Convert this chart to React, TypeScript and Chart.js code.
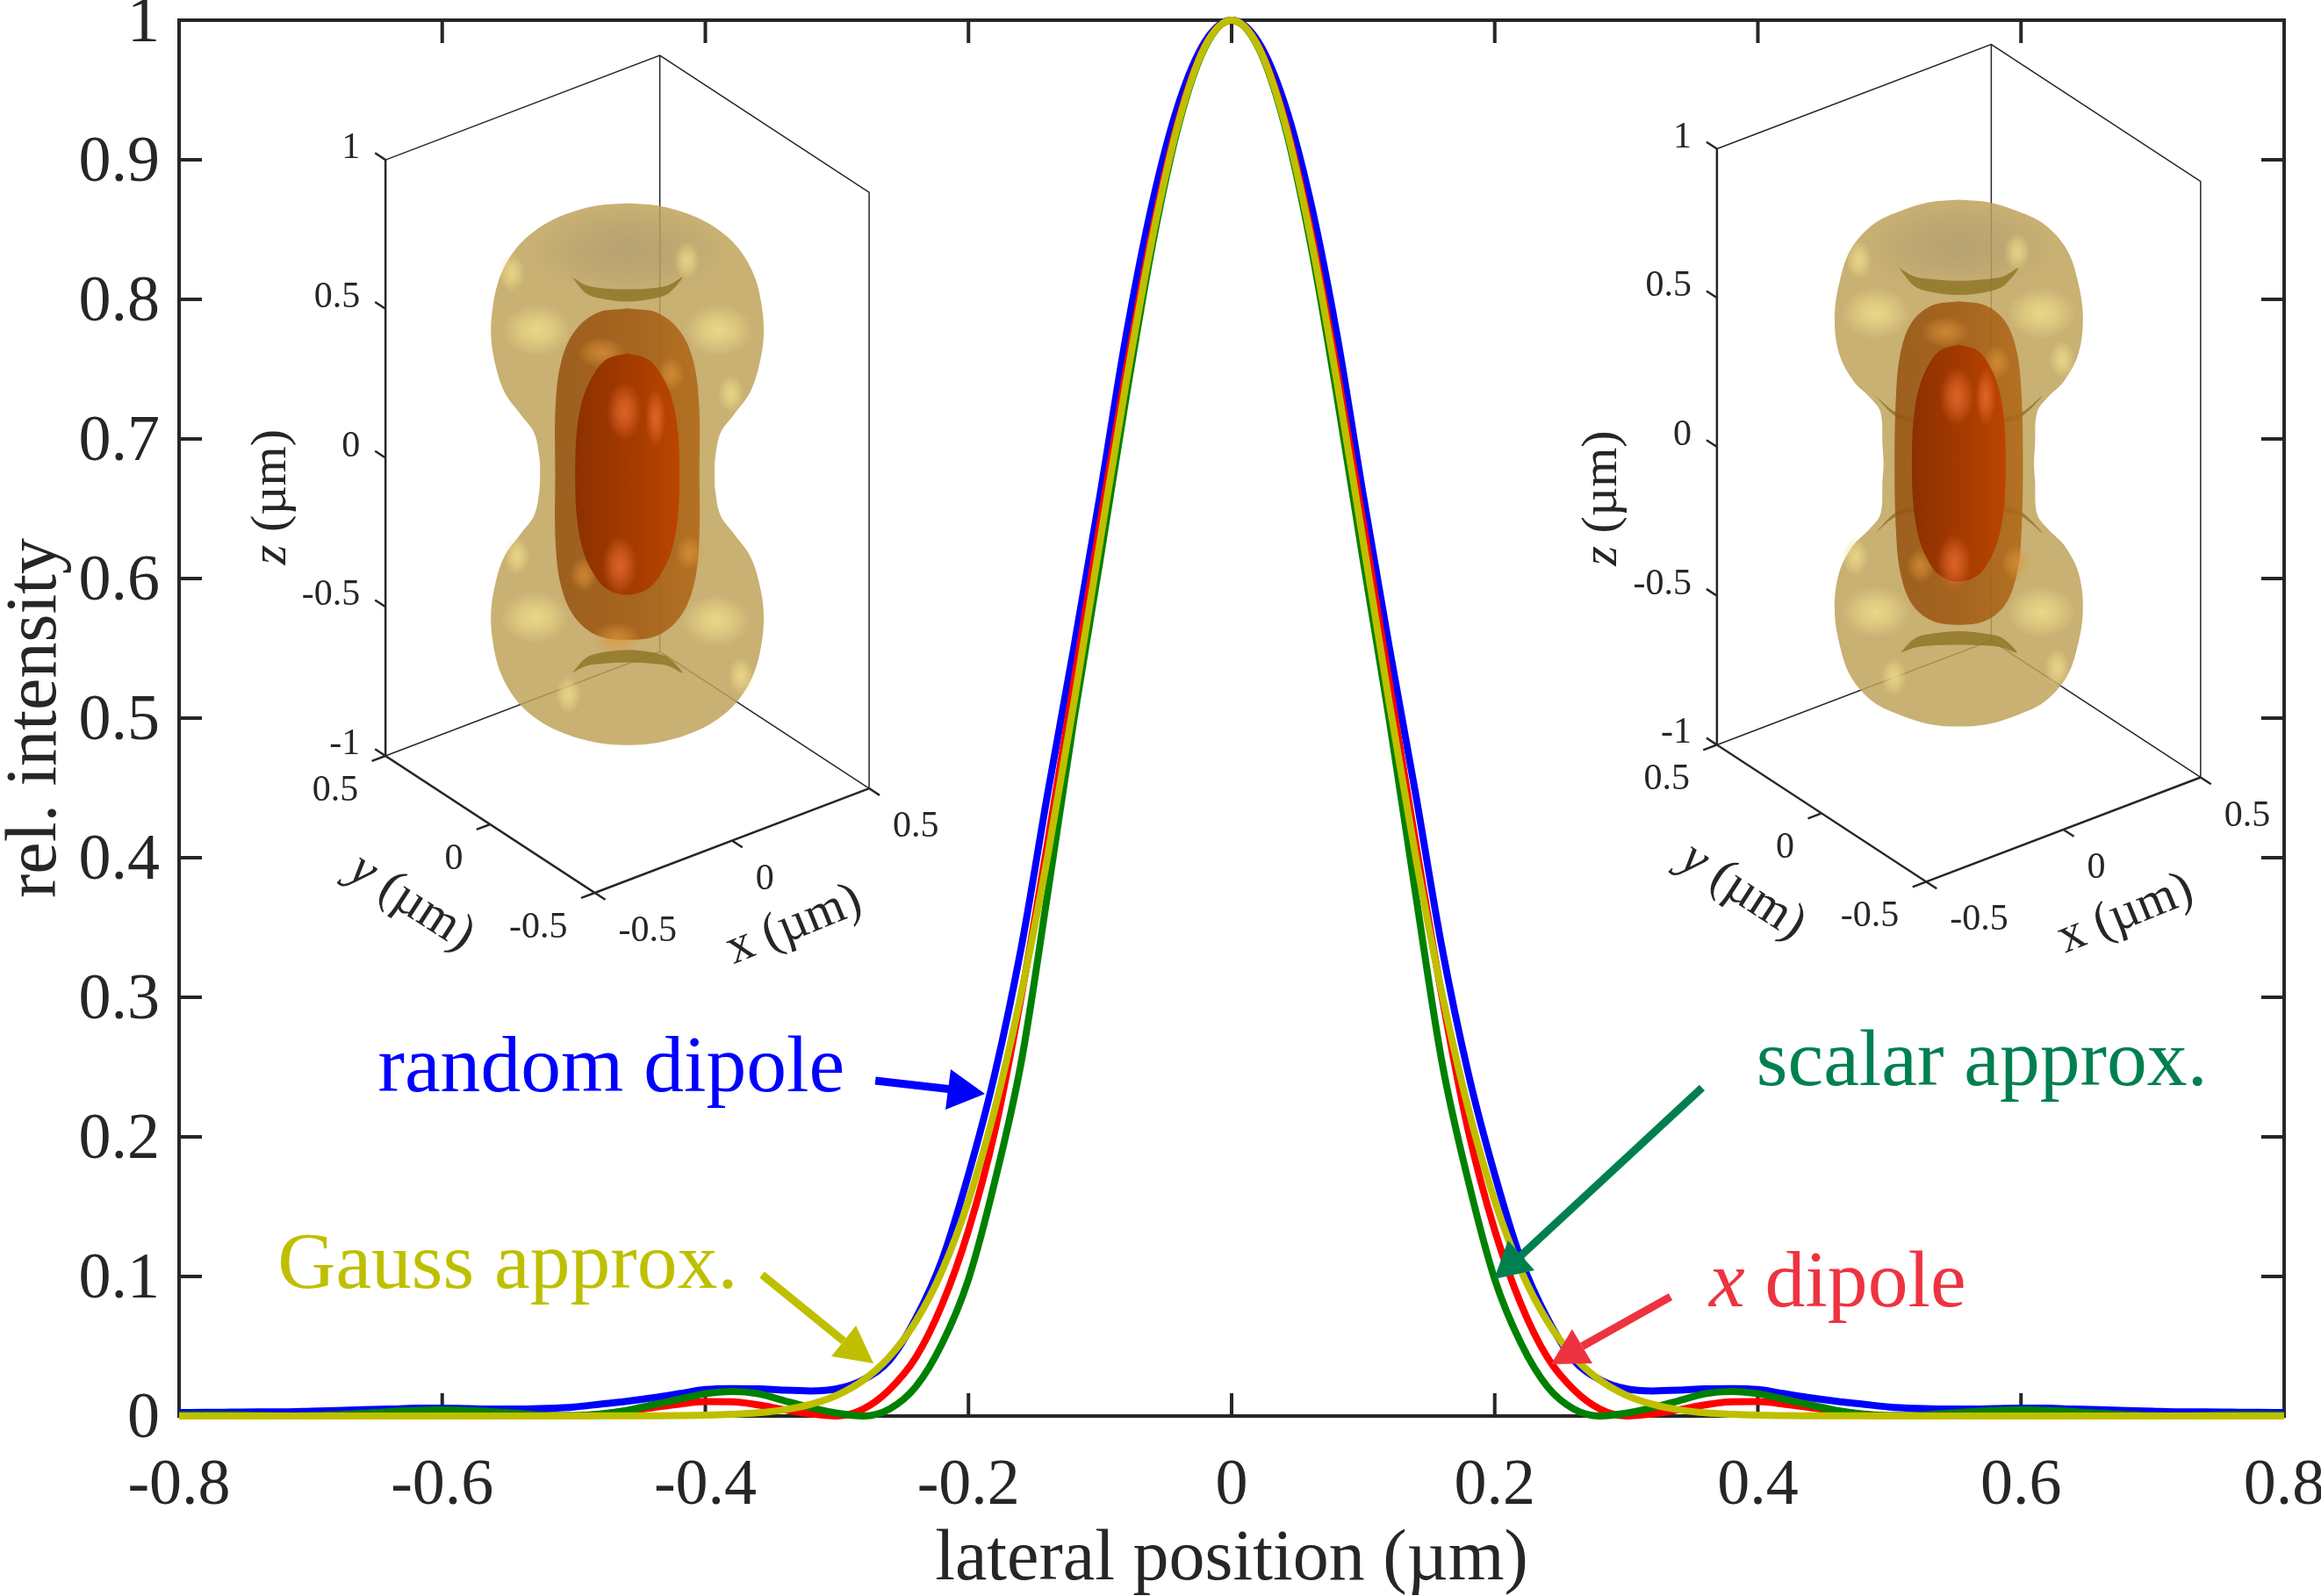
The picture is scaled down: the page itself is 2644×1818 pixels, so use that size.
import React, { useEffect, useRef } from 'react';
import { Chart, registerables } from 'chart.js';

Chart.register(...registerables);

const SERIF = '"Liberation Serif"';
const INK = '#262626';

// lateral position in um
const xValues = [
  -0.8, -0.78, -0.76, -0.74, -0.72, -0.7, -0.68, -0.66, -0.64, -0.62, -0.6, -0.58, -0.56, -0.54, -0.52, -0.5, -0.48,
  -0.46, -0.44, -0.42, -0.4, -0.38, -0.36, -0.34, -0.32, -0.3, -0.28, -0.26, -0.24, -0.22, -0.2, -0.18, -0.16, -0.14,
  -0.12, -0.1, -0.08, -0.06, -0.04, -0.02, 0, 0.02, 0.04, 0.06, 0.08, 0.1, 0.12, 0.14, 0.16, 0.18, 0.2, 0.22, 0.24,
  0.26, 0.28, 0.3, 0.32, 0.34, 0.36, 0.38, 0.4, 0.42, 0.44, 0.46, 0.48, 0.5, 0.52, 0.54, 0.56, 0.58, 0.6, 0.62, 0.64,
  0.66, 0.68, 0.7, 0.72, 0.74, 0.76, 0.78, 0.8,
];

const randomDipole = [
  0.0025, 0.0026, 0.0028, 0.003, 0.003, 0.0035, 0.004, 0.0045, 0.005, 0.0056, 0.0057, 0.0053, 0.005, 0.005, 0.0055,
  0.0065, 0.0085, 0.0105, 0.013, 0.016, 0.019, 0.0197, 0.0195, 0.0185, 0.018, 0.0195, 0.026, 0.04, 0.07, 0.112, 0.173,
  0.245, 0.335, 0.445, 0.55, 0.66, 0.775, 0.87, 0.941, 0.985, 1, 0.985, 0.941, 0.87, 0.775, 0.66, 0.55, 0.445, 0.335,
  0.245, 0.173, 0.112, 0.07, 0.04, 0.026, 0.0195, 0.018, 0.0185, 0.0195, 0.0197, 0.019, 0.016, 0.013, 0.0105, 0.0085,
  0.0065, 0.0055, 0.005, 0.005, 0.0053, 0.0057, 0.0056, 0.005, 0.0045, 0.004, 0.0035, 0.003, 0.003, 0.0028, 0.0026,
  0.0025,
];

const xDipole = [
  0.0003, 0.0003, 0.0002, 0.0001, 0, 0, 0.0002, 0.0006, 0.001, 0.0016, 0.0018, 0.0015, 0.001, 0.0006, 0.0002, 0.0002,
  0.0012, 0.0035, 0.006, 0.0085, 0.0103, 0.0102, 0.008, 0.0045, 0.0015, 0, 0.005, 0.019, 0.042, 0.08, 0.133, 0.204,
  0.3, 0.41, 0.525, 0.64, 0.75, 0.85, 0.93, 0.982, 1, 0.982, 0.93, 0.85, 0.75, 0.64, 0.525, 0.41, 0.3, 0.204, 0.133,
  0.08, 0.042, 0.019, 0.005, 0, 0.0015, 0.0045, 0.008, 0.0102, 0.0103, 0.0085, 0.006, 0.0035, 0.0012, 0.0002, 0.0002,
  0.0006, 0.001, 0.0015, 0.0018, 0.0016, 0.001, 0.0006, 0.0002, 0, 0, 0.0001, 0.0002, 0.0003, 0.0003,
];

const scalarApprox = [
  0.0008, 0.001, 0.001, 0.0005, 0.0002, 0.0003, 0.001, 0.002, 0.0032, 0.004, 0.0044, 0.004, 0.003, 0.0018, 0.0005,
  0.0003, 0.0015, 0.004, 0.008, 0.012, 0.016, 0.0176, 0.016, 0.011, 0.006, 0.002, 0, 0.005, 0.021, 0.052, 0.098, 0.168,
  0.253, 0.373, 0.498, 0.613, 0.731, 0.84, 0.926, 0.981, 1, 0.981, 0.926, 0.84, 0.731, 0.613, 0.498, 0.373, 0.253,
  0.168, 0.098, 0.052, 0.021, 0.005, 0, 0.002, 0.006, 0.011, 0.016, 0.0176, 0.016, 0.012, 0.008, 0.004, 0.0015, 0.0003,
  0.0005, 0.0018, 0.003, 0.004, 0.0044, 0.004, 0.0032, 0.002, 0.001, 0.0003, 0.0002, 0.0005, 0.001, 0.001, 0.0008,
];

const gaussApprox = [
  0, 0, 0, 0, 0, 0, 0, 0, 0, 0, 0, 0, 0, 0, 0, 0, 0.0001, 0.0001, 0.0001, 0.0003, 0.0006, 0.0012, 0.0023, 0.0045,
  0.0084, 0.0149, 0.0256, 0.0425, 0.0678, 0.1042, 0.1543, 0.22, 0.3023, 0.4002, 0.5102, 0.6267, 0.7415, 0.8452, 0.928,
  0.9815, 1, 0.9815, 0.928, 0.8452, 0.7415, 0.6267, 0.5102, 0.4002, 0.3023, 0.22, 0.1543, 0.1042, 0.0678, 0.0425,
  0.0256, 0.0149, 0.0084, 0.0045, 0.0023, 0.0012, 0.0006, 0.0003, 0.0001, 0.0001, 0.0001, 0, 0, 0, 0, 0, 0, 0, 0, 0, 0,
  0, 0, 0, 0, 0, 0,
];

const xTickValues = [-0.8, -0.6, -0.4, -0.2, 0, 0.2, 0.4, 0.6, 0.8];
const xTickLabels = ['-0.8', '-0.6', '-0.4', '-0.2', '0', '0.2', '0.4', '0.6', '0.8'];
const yTickValues = [0, 0.1, 0.2, 0.3, 0.4, 0.5, 0.6, 0.7, 0.8, 0.9, 1];
const yTickLabels = ['0', '0.1', '0.2', '0.3', '0.4', '0.5', '0.6', '0.7', '0.8', '0.9', '1'];

// inset isosurface outlines: [screen half width, z], top half only, mirrored when the shape is built
const leftOuter = [
  [0, 0.909], [0.088, 0.901], [0.179, 0.872], [0.257, 0.826], [0.322, 0.758], [0.368, 0.665], [0.39, 0.562],
  [0.395, 0.459], [0.38, 0.355], [0.355, 0.273], [0.309, 0.2], [0.27, 0.138], [0.255, 0.056], [0.253, 0],
];
const leftMiddle = [[0, 0.556], [0.088, 0.541], [0.153, 0.479], [0.192, 0.376], [0.208, 0.231], [0.209, 0]];
const leftInner = [[0, 0.405], [0.06, 0.385], [0.1, 0.33], [0.13, 0.25], [0.147, 0.14], [0.151, 0]];
const rightOuter = [
  [0, 0.884], [0.084, 0.876], [0.162, 0.849], [0.247, 0.802], [0.312, 0.719], [0.344, 0.616], [0.36, 0.492],
  [0.347, 0.368], [0.305, 0.275], [0.26, 0.223], [0.227, 0.171], [0.221, 0.058], [0.218, 0],
];
const rightMiddle = [[0, 0.543], [0.078, 0.529], [0.136, 0.473], [0.169, 0.37], [0.182, 0.225], [0.186, 0]];
const rightInner = [[0, 0.398], [0.054, 0.378], [0.09, 0.325], [0.117, 0.245], [0.132, 0.135], [0.136, 0]];

// soft shadow of the bowl on top of the torus
const leftBowl = [[0, 0.75, 0]];
const rightBowl = [[0, 0.73, 0]];

// dark crescents where the surface folds: [r, z] going round each one
const leftCrescents = [
  [[-0.16, 0.661], [-0.12, 0.607], [-0.08, 0.59], [0, 0.579], [0.08, 0.59], [0.12, 0.607], [0.16, 0.661], [0.12, 0.634], [0.08, 0.625], [0, 0.62], [-0.08, 0.625], [-0.12, 0.634], [-0.16, 0.661]],
  [[-0.16, -0.667], [-0.12, -0.617], [-0.08, -0.6], [0, -0.59], [0.08, -0.6], [0.12, -0.617], [0.16, -0.667], [0.12, -0.644], [0.08, -0.637], [0, -0.632], [-0.08, -0.637], [-0.12, -0.644], [-0.16, -0.667]],
];
const rightCrescents = [
  [[-0.173, 0.655], [-0.13, 0.595], [-0.087, 0.576], [0, 0.564], [0.087, 0.576], [0.13, 0.595], [0.173, 0.655], [0.13, 0.627], [0.087, 0.618], [0, 0.612], [-0.087, 0.618], [-0.13, 0.627], [-0.173, 0.655]],
  [[-0.169, -0.636], [-0.127, -0.588], [-0.085, -0.574], [0, -0.564], [0.085, -0.574], [0.127, -0.588], [0.169, -0.636], [0.127, -0.619], [0.085, -0.613], [0, -0.61], [-0.085, -0.613], [-0.127, -0.619], [-0.169, -0.636]],
  [[-0.243, 0.227], [-0.182, 0.156], [-0.122, 0.134], [0, 0.12], [0.122, 0.134], [0.182, 0.156], [0.243, 0.227], [0.182, 0.17], [0.122, 0.152], [0, 0.14], [-0.122, 0.152], [-0.182, 0.17], [-0.243, 0.227]],
  [[-0.243, -0.236], [-0.182, -0.165], [-0.122, -0.142], [0, -0.128], [0.122, -0.142], [0.182, -0.165], [0.243, -0.236], [0.182, -0.179], [0.122, -0.161], [0, -0.149], [-0.122, -0.161], [-0.182, -0.179], [-0.243, -0.236]],
];

// specular spots: [r, z, size], size 0 small, 1 medium, 2 large
const leftOuterSpots = [
  [-0.335, 0.676, 0], [-0.262, 0.483, 2], [0.264, 0.483, 2], [0.173, 0.717, 0], [0.3, 0.27, 0],
  [-0.269, -0.481, 2], [0.257, -0.492, 2], [-0.32, -0.275, 0], [0.33, -0.678, 0], [-0.171, -0.74, 0],
];
const leftMiddleSpots = [[0.127, 0.335, 0], [-0.074, 0.407, 1], [0.179, -0.264, 0], [-0.126, -0.337, 0], [-0.03, -0.55, 1]];
const leftInnerSpots = [[-0.009, 0.211, 1], [0.082, 0.19, 0], [-0.022, -0.306, 1]];
const rightOuterSpots = [
  [-0.29, 0.682, 0], [-0.24, 0.502, 2], [0.24, 0.502, 2], [0.169, 0.709, 0], [-0.24, -0.5, 2], [0.24, -0.5, 2],
  [0.285, -0.686, 0], [-0.188, -0.717, 0], [0.3, 0.347, 0], [-0.3, -0.314, 0],
];
const rightMiddleSpots = [[0.11, 0.337, 0], [-0.039, 0.44, 1], [0.165, -0.335, 0], [-0.11, -0.345, 0]];
const rightInnerSpots = [[-0.006, 0.223, 1], [0.078, 0.223, 0], [-0.013, -0.335, 1]];

const insetZTicks = [1, 0.5, 0, -0.5, -1];
const insetZLabels = ['1', '0.5', '0', '-0.5', '-1'];
const insetYTicks = [0.5, 0, -0.5];
const insetYLabels = ['0.5', '0', '-0.5'];
const insetXTicks = [-0.5, 0, 0.5];
const insetXLabels = ['-0.5', '0', '0.5'];

// arrows in axis units: shaft start, shaft end, then the head's tip and two rear corners
const arrowBlue = [[-0.2708, 0.2403], [-0.2121, 0.234], [-0.1875, 0.2308], [-0.2135, 0.2484], [-0.2175, 0.2195]];
const arrowGreen = [[0.3576, 0.2352], [0.2201, 0.1151], [0.1995, 0.0981], [0.2101, 0.1258], [0.2302, 0.1044]];
const arrowRed = [[0.3336, 0.0855], [0.2665, 0.05], [0.2428, 0.0371], [0.2588, 0.0623], [0.2742, 0.0377]];
const arrowGauss = [[-0.3569, 0.1013], [-0.2949, 0.0538], [-0.2722, 0.0377], [-0.2855, 0.0648], [-0.3042, 0.0428]];

const BLUE = '#0000ff';
const RED = '#ff0000';
const GREEN = '#008000';
const GAUSS = '#bfbf00';
const NOTE_GREEN = '#008050';
const NOTE_RED = '#ee3340';

// projection of one micrometre of each inset axis, in main axis units
const UX = [0.2085, 0.0748];
const UY = [-0.1591, 0.0981];
const UZ = [0, 0.2135];
const RW = 0.2622;

const insets = [
  {
    cx: -0.4593, cy: 0.6748, outer: leftOuter, middle: leftMiddle, inner: leftInner, bowl: leftBowl, crescents: leftCrescents,
    outerSpots: leftOuterSpots, middleSpots: leftMiddleSpots, innerSpots: leftInnerSpots, zOff: [-405, 26],
  },
  {
    cx: 0.5527, cy: 0.6827, outer: rightOuter, middle: rightMiddle, inner: rightInner, bowl: rightBowl, crescents: rightCrescents,
    outerSpots: rightOuterSpots, middleSpots: rightMiddleSpots, innerSpots: rightInnerSpots, zOff: [-406, 40],
  },
];

function project(c: any, x: number, y: number, z: number) {
  return {
    x: c.cx + x * UX[0] + y * UY[0] + z * UZ[0],
    y: c.cy + x * UX[1] + y * UY[1] + z * UZ[1],
  };
}

function place(c: any, pts: number[][]) {
  return pts.map((p) => ({ x: c.cx + p[0] * RW, y: c.cy + p[1] * UZ[1] }));
}

function shapePoints(c: any, prof: number[][]) {
  const right = [...prof, ...prof.slice(0, -1).reverse().map((p) => [p[0], -p[1]])];
  const left = right.slice(0, -1).reverse().map((p) => [-p[0], p[1]]);
  return place(c, [...right, ...left]);
}

function hGradient(c: any, halfWidth: number, stops: string[]) {
  return (ctx: any) => {
    const chart = ctx.chart;
    if (!chart.chartArea) return stops[0];
    const xs = chart.scales.x;
    const g = chart.ctx.createLinearGradient(
      xs.getPixelForValue(c.cx - halfWidth * RW), 0, xs.getPixelForValue(c.cx + halfWidth * RW), 0,
    );
    stops.forEach((s, i) => g.addColorStop(i / (stops.length - 1), s));
    return g;
  };
}

function makeGlow(rx: number, ry: number, rgb: string, alpha: number) {
  const cv = document.createElement('canvas');
  cv.width = rx * 2;
  cv.height = ry * 2;
  const c = cv.getContext('2d')!;
  c.translate(rx, ry);
  c.scale(1, ry / rx);
  const g = c.createRadialGradient(0, 0, 0, 0, 0, rx);
  g.addColorStop(0, `rgba(${rgb},${alpha})`);
  g.addColorStop(0.45, `rgba(${rgb},${alpha * 0.65})`);
  g.addColorStop(1, `rgba(${rgb},0)`);
  c.fillStyle = g;
  c.beginPath();
  c.arc(0, 0, rx, 0, Math.PI * 2);
  c.fill();
  return cv;
}

const GAP = { x: NaN, y: NaN };

function boxBack(c: any) {
  return [
    project(c, -0.5, 0.5, 1), project(c, 0.5, 0.5, 1), project(c, 0.5, -0.5, 1), project(c, 0.5, -0.5, -1), GAP,
    project(c, 0.5, 0.5, 1), project(c, 0.5, 0.5, -1), GAP,
    project(c, -0.5, 0.5, -1), project(c, 0.5, 0.5, -1), project(c, 0.5, -0.5, -1),
  ];
}

function boxFront(c: any) {
  const pts: any[] = [project(c, -0.5, 0.5, 1), project(c, -0.5, 0.5, -1), project(c, -0.5, -0.5, -1), project(c, 0.5, -0.5, -1), GAP];
  insetZTicks.forEach((z) => pts.push(project(c, -0.5, 0.5, z), project(c, -0.5, 0.55, z), GAP));
  insetYTicks.forEach((y) => pts.push(project(c, -0.5, y, -1), project(c, -0.55, y, -1), GAP));
  insetXTicks.forEach((x) => pts.push(project(c, x, -0.5, -1), project(c, x, -0.55, -1), GAP));
  return pts;
}

function shape(data: any[], backgroundColor: any) {
  return { data, backgroundColor, borderWidth: 0, fill: 'shape', pointRadius: 0, tension: 0.35, capBezierPoints: false };
}

function spotSet(c: any, spots: number[][], glows: HTMLCanvasElement[]) {
  return {
    data: spots.map((s) => ({ x: c.cx + s[0] * RW, y: c.cy + s[1] * UZ[1], s: s[2] })),
    showLine: false,
    pointRadius: 6,
    pointStyle: (ctx: any) => (ctx.raw ? glows[ctx.raw.s] : 'circle'),
  };
}

function insetSets(c: any, glows: any) {
  const midHalf = c.middle[c.middle.length - 1][0];
  const inHalf = c.inner[c.inner.length - 1][0];
  return [
    { data: boxBack(c), borderColor: INK, borderWidth: 1.5, pointRadius: 0, spanGaps: false },
    shape(shapePoints(c, c.outer), 'rgba(192,162,91,0.85)'),
    spotSet(c, c.bowl, glows.bowl),
    spotSet(c, c.outerSpots, glows.outer),
    ...c.crescents.map((cr: number[][]) => shape(place(c, cr), 'rgba(140,115,35,0.8)')),
    shape(shapePoints(c, c.middle), hGradient(c, midHalf, ['rgba(150,84,18,0.88)', 'rgba(160,90,20,0.88)', 'rgba(176,104,24,0.88)'])),
    spotSet(c, c.middleSpots, glows.middle),
    shape(shapePoints(c, c.inner), hGradient(c, inHalf, ['#8c3000', '#a33a00', '#bb4500'])),
    spotSet(c, c.innerSpots, glows.inner),
    { data: boxFront(c), borderColor: INK, borderWidth: 2.5, pointRadius: 0, spanGaps: false },
  ];
}

function arrowSets(a: number[][], color: string) {
  const toPt = (p: number[]) => ({ x: p[0], y: p[1] });
  return [
    { data: [toPt(a[0]), toPt(a[1])], borderColor: color, borderWidth: 9, pointRadius: 0 },
    {
      data: [toPt(a[2]), toPt(a[3]), toPt(a[4]), toPt(a[2])],
      backgroundColor: color, borderWidth: 0, fill: 'shape', pointRadius: 0,
    },
  ];
}

function curve(label: string, values: number[], color: string) {
  return {
    label,
    data: values.map((y, i) => ({ x: xValues[i], y })),
    borderColor: color,
    borderWidth: 8,
    pointRadius: 0,
    cubicInterpolationMode: 'monotone',
    clip: false,
  };
}

const frameTicks = {
  id: 'frameTicks',
  beforeDatasetsDraw(chart: any) {
    const { ctx, chartArea: a, scales } = chart;
    ctx.save();
    ctx.strokeStyle = INK;
    ctx.lineWidth = 4;
    ctx.strokeRect(a.left, a.top, a.right - a.left, a.bottom - a.top);
    ctx.beginPath();
    const len = 26;
    xTickValues.forEach((v) => {
      const px = scales.x.getPixelForValue(v);
      ctx.moveTo(px, a.bottom);
      ctx.lineTo(px, a.bottom - len);
      ctx.moveTo(px, a.top);
      ctx.lineTo(px, a.top + len);
    });
    yTickValues.forEach((v) => {
      const py = scales.y.getPixelForValue(v);
      ctx.moveTo(a.left, py);
      ctx.lineTo(a.left + len, py);
      ctx.moveTo(a.right, py);
      ctx.lineTo(a.right - len, py);
    });
    ctx.stroke();
    ctx.restore();
  },
};

const notes = [
  { x: -0.6489, y: 0.2327, color: BLUE, parts: [['', 'random dipole']] },
  { x: 0.3989, y: 0.2371, color: NOTE_GREEN, parts: [['', 'scalar approx.']] },
  { x: -0.7251, y: 0.0918, color: GAUSS, parts: [['', 'Gauss approx.']] },
  { x: 0.363, y: 0.0786, color: NOTE_RED, parts: [['italic ', 'x'], ['', ' dipole']] },
];

const textLayer = {
  id: 'textLayer',
  afterDatasetsDraw(chart: any) {
    const { ctx, scales } = chart;
    const X = (v: number) => scales.x.getPixelForValue(v);
    const Y = (v: number) => scales.y.getPixelForValue(v);
    ctx.save();
    ctx.textBaseline = 'alphabetic';
    ctx.textAlign = 'left';
    notes.forEach((n) => {
      let px = X(n.x);
      ctx.fillStyle = n.color;
      n.parts.forEach(([style, txt]) => {
        ctx.font = `${style}91.6px ${SERIF}`;
        ctx.fillText(txt, px, Y(n.y));
        px += ctx.measureText(txt).width;
      });
    });

    ctx.fillStyle = INK;
    ctx.textBaseline = 'middle';
    insets.forEach((c) => {
      ctx.font = `42px ${SERIF}`;
      ctx.textAlign = 'right';
      insetZTicks.forEach((z, i) => {
        const p = project(c, -0.5, 0.5, z);
        ctx.fillText(insetZLabels[i], X(p.x) - 29, Y(p.y) - 13);
      });
      insetYTicks.forEach((y, i) => {
        const p = project(c, -0.5, y, -1);
        ctx.fillText(insetYLabels[i], X(p.x) - 31, Y(p.y) + 40);
      });
      ctx.textAlign = 'left';
      insetXTicks.forEach((x, i) => {
        const p = project(c, x, -0.5, -1);
        ctx.fillText(insetXLabels[i], X(p.x) + 27, Y(p.y) + 44);
      });
      const cx = X(c.cx);
      const cy = Y(c.cy);
      const axisLabel = (ox: number, oy: number, deg: number, name: string, italic: boolean) => {
        ctx.save();
        ctx.translate(cx + ox, cy + oy);
        ctx.rotate((deg * Math.PI) / 180);
        const nameFont = `${italic ? 'italic ' : ''}58px ${SERIF}`;
        const restFont = `58px ${SERIF}`;
        ctx.font = nameFont;
        const w1 = ctx.measureText(name).width;
        ctx.font = restFont;
        const rest = ' (\u00b5m)';
        const w2 = ctx.measureText(rest).width;
        ctx.textAlign = 'left';
        ctx.font = nameFont;
        ctx.fillText(name, -(w1 + w2) / 2, 0);
        ctx.font = restFont;
        ctx.fillText(rest, -(w1 + w2) / 2 + w1, 0);
        ctx.restore();
      };
      axisLabel(c.zOff[0], c.zOff[1], -90, 'z', true);
      axisLabel(-246, 488, 33, 'y', true);
      axisLabel(190, 514, -22, 'x', false);
    });
    ctx.restore();
  },
};

export default function App() {
  const canvasRef = useRef<HTMLCanvasElement>(null);

  useEffect(() => {
    if (!canvasRef.current) return;
    const glows = {
      bowl: [makeGlow(110, 52, '155,140,110', 0.4)],
      outer: [makeGlow(15, 22, '240,222,140', 0.8), makeGlow(24, 24, '240,222,140', 0.8), makeGlow(40, 30, '240,222,140', 0.85)],
      middle: [makeGlow(16, 20, '222,150,60', 0.7), makeGlow(28, 18, '222,150,60', 0.7), makeGlow(28, 18, '222,150,60', 0.7)],
      inner: [makeGlow(12, 34, '235,110,50', 0.8), makeGlow(20, 34, '235,110,50', 0.8), makeGlow(20, 34, '235,110,50', 0.8)],
    };

    // later in the list means drawn later
    const drawList: any[] = [
      ...insets.flatMap((c) => insetSets(c, glows)),
      curve('random dipole', randomDipole, BLUE),
      curve('x dipole', xDipole, RED),
      curve('scalar approx.', scalarApprox, GREEN),
      curve('Gauss approx.', gaussApprox, GAUSS),
      ...arrowSets(arrowBlue, BLUE),
      ...arrowSets(arrowGreen, NOTE_GREEN),
      ...arrowSets(arrowRed, NOTE_RED),
      ...arrowSets(arrowGauss, GAUSS),
    ];
    drawList.forEach((d, i) => {
      d.order = drawList.length - i;
    });

    const chart = new Chart(canvasRef.current, {
      type: 'line',
      data: { datasets: drawList },
      plugins: [frameTicks, textLayer],
      options: {
        animation: false,
        responsive: false,
        devicePixelRatio: 1,
        events: [],
        layout: { padding: { top: 23, right: 42, left: 0, bottom: 0 } },
        plugins: { legend: { display: false }, tooltip: { enabled: false } },
        scales: {
          x: {
            type: 'linear',
            min: -0.8,
            max: 0.8,
            grid: { display: false },
            border: { display: false },
            afterBuildTicks: (s: any) => {
              s.ticks = xTickValues.map((value) => ({ value }));
            },
            afterFit: (s: any) => {
              s.height = 205;
              s.paddingLeft = s.paddingRight = s.paddingTop = s.paddingBottom = 0;
            },
            ticks: {
              autoSkip: false,
              maxRotation: 0,
              padding: 28,
              color: INK,
              font: { family: SERIF, size: 74 },
              callback: (_v: any, i: number) => xTickLabels[i],
            },
            title: {
              display: true,
              text: 'lateral position (\u00b5m)',
              color: INK,
              font: { family: SERIF, size: 82, lineHeight: 1 },
              padding: { top: 0, bottom: 0 },
            },
          },
          y: {
            min: 0,
            max: 1,
            grid: { display: false },
            border: { display: false },
            afterBuildTicks: (s: any) => {
              s.ticks = yTickValues.map((value) => ({ value }));
            },
            afterFit: (s: any) => {
              s.width = 204;
              s.paddingLeft = s.paddingRight = s.paddingTop = s.paddingBottom = 0;
            },
            ticks: {
              autoSkip: false,
              padding: 14,
              labelOffset: 5,
              color: INK,
              font: { family: SERIF, size: 74 },
              callback: (_v: any, i: number) => yTickLabels[i],
            },
            title: {
              display: true,
              text: 'rel. intensity',
              color: INK,
              font: { family: SERIF, size: 82, lineHeight: 1 },
              padding: { top: 0, bottom: 0 },
            },
          },
        },
      },
    } as any);

    return () => chart.destroy();
  }, []);

  return (
    <div style={{ position: 'absolute', left: 0, top: 0, width: 2644, height: 1818, background: '#fff' }}>
      <canvas ref={canvasRef} width={2644} height={1818} style={{ display: 'block' }} />
    </div>
  );
}
